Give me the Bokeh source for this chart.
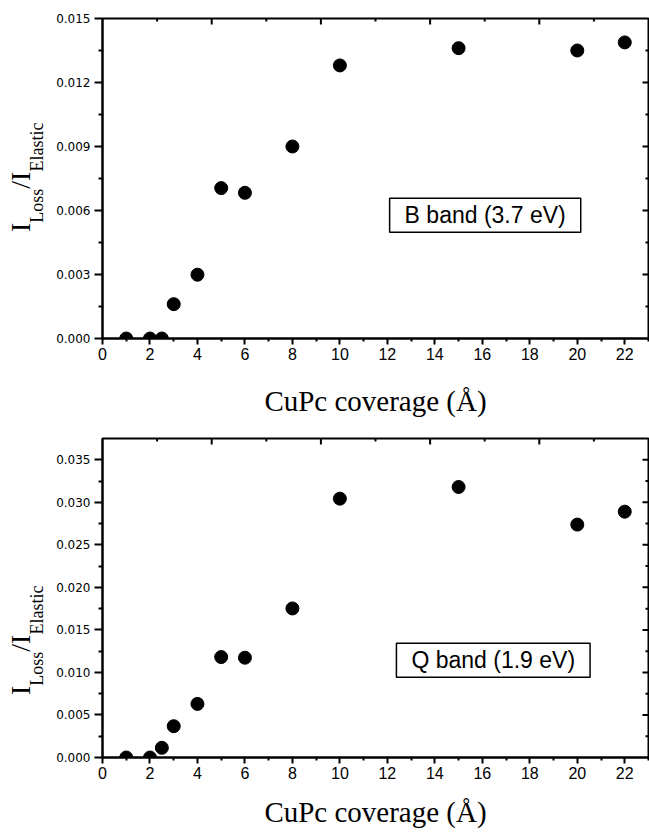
import math
from bokeh.plotting import figure
from bokeh.layouts import column, row
from bokeh.models import Range1d, FixedTicker, NumeralTickFormatter, Label, Div
from bokeh.embed import file_html
from bokeh.resources import INLINE

# ---------------- data ----------------
coverage = [1, 2, 2.5, 3, 4, 5, 6, 8, 10, 15, 20, 22]
b_band = [0.0, 0.0, 0.0, 0.00161, 0.00299, 0.00705, 0.00683, 0.0090, 0.0128, 0.01361, 0.0135, 0.01388]
q_band = [0.0, 0.0, 0.00114, 0.00368, 0.0063, 0.01181, 0.01173, 0.01752, 0.03043, 0.0318, 0.02738, 0.0289]

x_major = [0, 2, 4, 6, 8, 10, 12, 14, 16, 18, 20, 22]
x_minor = [1, 3, 5, 7, 9, 11, 13, 15, 17, 19, 21, 23]
top_major = [2, 4, 6, 8]
top_minor = [1, 3, 5, 7, 9]
yb_major = [0.003, 0.006, 0.009, 0.012]
yb_minor = [0.0015, 0.0045, 0.0075, 0.0105, 0.0135]
yb_labels = [0.0, 0.003, 0.006, 0.009, 0.012, 0.015]
yq_major = [0.005, 0.010, 0.015, 0.020, 0.025, 0.030, 0.035]
yq_minor = [0.0025, 0.0075, 0.0125, 0.0175, 0.0225, 0.0275, 0.0325]
yq_labels = [0.0, 0.005, 0.010, 0.015, 0.020, 0.025, 0.030, 0.035]

x_label = "CuPc coverage (Å)"
b_text = "B band (3.7 eV)"
q_text = "Q band (1.9 eV)"

XMAX = 23.0
TOP_SCALE = 10.0
DIV_W = 50
LEFT, FRAME_W, RIGHT = 52, 546, 1
SANS = "Liberation Sans"
SERIF = "Liberation Serif"


def ylabel_div(height, x0, y0):
    sub = "font-size:18px; position:relative; top:13px;"
    html = (
        f'<div style="position:relative; width:{DIV_W}px; height:{height}px; overflow:visible;">'
        f'<div style="position:absolute; left:{x0}px; top:{y0}px; transform:rotate(-90deg); '
        f'transform-origin:0 0; white-space:nowrap; font-family:\'{SERIF}\'; font-size:28px; '
        f'line-height:28px; color:black;">'
        f'I<span style="{sub}">Loss</span>/I<span style="{sub}">Elastic</span></div></div>'
    )
    return Div(text=html, width=DIV_W, height=height, margin=0,
               styles={"overflow": "visible"})


def make_panel(xs, ys, ymax, ylabs, ymaj, ymin, box_text, box_xy, top_b, frame_h, bot_b,
               xlab_standoff):
    h = top_b + frame_h + bot_b
    p = figure(width=LEFT + FRAME_W + RIGHT, height=h, output_backend="svg",
               toolbar_location=None, x_range=Range1d(0, XMAX), y_range=Range1d(0, ymax),
               min_border_left=LEFT, min_border_right=RIGHT, min_border_top=top_b,
               min_border_bottom=bot_b, background_fill_color="white",
               border_fill_color="white", margin=0)
    p.xgrid.visible = False
    p.ygrid.visible = False
    p.outline_line_color = "black"
    p.outline_line_width = 2

    # bottom axis
    xa = p.xaxis[0]
    xa.ticker = FixedTicker(ticks=x_major, minor_ticks=x_minor)
    xa.major_tick_out = 6
    xa.major_tick_in = 0
    xa.minor_tick_out = 3
    xa.minor_tick_in = 0
    xa.major_tick_line_width = 2
    xa.minor_tick_line_width = 2
    xa.axis_line_width = 2
    xa.major_label_text_font = SANS
    xa.major_label_text_font_size = "16px"
    xa.major_label_text_color = "black"
    xa.major_label_standoff = 3
    xa.axis_label = x_label
    xa.axis_label_text_font = SERIF
    xa.axis_label_text_font_size = "29px"
    xa.axis_label_text_font_style = "normal"
    xa.axis_label_text_color = "black"
    xa.axis_label_standoff = xlab_standoff

    # left axis
    ya = p.yaxis[0]
    ya.ticker = FixedTicker(ticks=ylabs, minor_ticks=ymin)
    ya.formatter = NumeralTickFormatter(format="0.000")
    ya.major_tick_out = 8
    ya.major_tick_in = 0
    ya.minor_tick_out = 4
    ya.minor_tick_in = 0
    ya.major_tick_line_width = 2
    ya.minor_tick_line_width = 2
    ya.axis_line_width = 2
    ya.major_label_text_font = "DejaVu Sans"
    ya.major_label_text_font_size = "12px"
    ya.major_label_text_color = "black"
    ya.major_label_standoff = 4

    # inward ticks on the right and top frame edges
    px_x = FRAME_W / XMAX
    px_y = frame_h / ymax
    p.extra_x_ranges = {"top": Range1d(0, TOP_SCALE)}
    for vals, ln in ((ymaj, 6), (ymin, 3)):
        p.scatter([XMAX - ln / 2 / px_x] * len(vals), vals, marker="dash", size=ln,
                  line_color="black", line_width=2)
    for vals, ln in ((top_major, 6), (top_minor, 3)):
        p.scatter(vals, [ymax - ln / 2 / px_y] * len(vals), x_range_name="top",
                  marker="dash", angle=math.pi / 2, size=ln, line_color="black", line_width=2)

    p.scatter(xs, ys, size=13, marker="circle", fill_color="black", line_color="black")

    # boxed annotation
    p.add_layout(Label(x=box_xy[0], y=box_xy[1], text=box_text, text_align="center",
                       text_baseline="middle", text_font=SANS, text_font_size="23px",
                       text_color="black", border_line_color="black", border_line_width=1.5,
                       background_fill_color="white",
                       padding=dict(left=15, right=15, top=4, bottom=4)))
    return p


p1 = make_panel(coverage, b_band, 0.015, yb_labels, yb_major, yb_minor, b_text,
                (16.12, 0.00578), 18, 320, 90, 22)
p2 = make_panel(coverage, q_band, 0.0375, yq_labels, yq_major, yq_minor, q_text,
                (16.46, 0.01142), 10, 319, 75, 14)

d1 = ylabel_div(428, 7, 232)
d2 = ylabel_div(404, 7, 267)

layout = column(row(d1, p1, spacing=0), row(d2, p2, spacing=0), spacing=0)
open("out.html", "w").write(file_html(layout, INLINE))
